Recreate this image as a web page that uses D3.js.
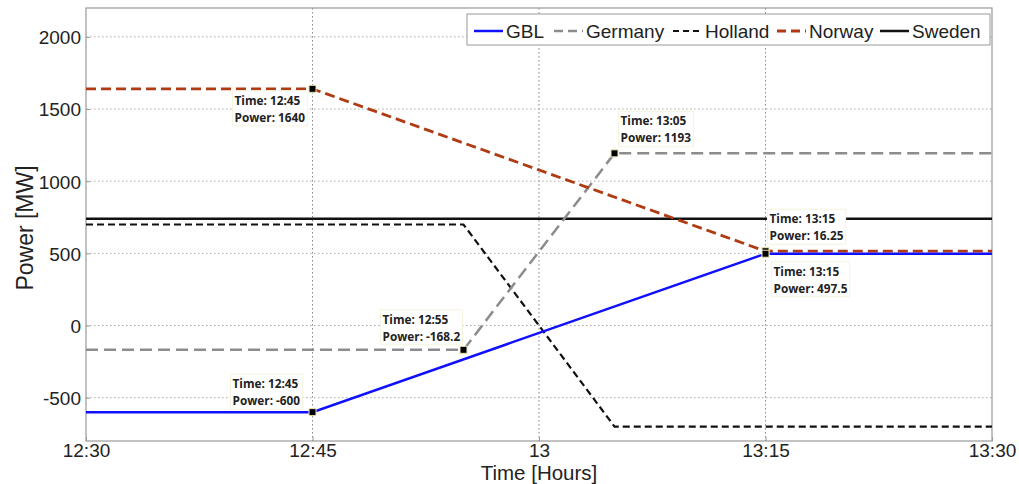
<!DOCTYPE html>
<html><head><meta charset="utf-8">
<script src="https://cdn.jsdelivr.net/npm/d3@7"></script>
<style>body{margin:0;background:#fff;} svg{display:block;}</style>
</head><body>
<script>
// times in minutes after 12:00
const xTicks = [30, 45, 60, 75, 90];
const xTickLabels = ["12:30", "12:45", "13", "13:15", "13:30"];
const yTicks = [-500, 0, 500, 1000, 1500, 2000];
const seriesNames = ["GBL", "Germany", "Holland", "Norway", "Sweden"];
const gblT = [30, 45, 75, 90],    gblV = [-600, -600, 497.5, 497.5];
const gerT = [30, 55, 65, 90],    gerV = [-168.2, -168.2, 1193, 1193];
const holT = [30, 55, 65, 90],    holV = [700, 700, -700, -700];
const norT = [30, 45, 75, 90],    norV = [1640, 1640, 515, 515];
const sweT = [30, 90],            sweV = [740, 740];
const annT = [45, 65, 75, 75, 55, 45];
const annV = [1640, 1193, 515, 497.5, -168.2, -600];
const annTime = ["12:45", "13:05", "13:15", "13:15", "12:55", "12:45"];
const annPower = ["1640", "1193", "16.25", "497.5", "-168.2", "-600"];

const W = 1019, H = 484;
const m = {l: 86, r: 27, t: 8, b: 43};
const svg = d3.select("body").append("svg").attr("width", W).attr("height", H);
const x = d3.scaleLinear().domain([30, 90]).range([m.l, W - m.r]);
const y = d3.scaleLinear().domain([-800, 2200]).range([H - m.b, m.t]);

// grid
const g = svg.append("g");
g.selectAll(".gy").data(yTicks).join("line")
  .attr("x1", m.l).attr("x2", W - m.r).attr("y1", d => y(d)).attr("y2", d => y(d))
  .attr("stroke", "#aaa").attr("stroke-width", 1).attr("stroke-dasharray", "1.5,2.5");
g.selectAll(".gx").data(xTicks.slice(1, -1)).join("line")
  .attr("y1", m.t).attr("y2", H - m.b).attr("x1", d => x(d)).attr("x2", d => x(d))
  .attr("stroke", "#888").attr("stroke-width", 1).attr("stroke-dasharray", "1.5,2.5");

// frame
svg.append("rect").attr("x", m.l).attr("y", m.t).attr("width", W - m.r - m.l).attr("height", H - m.b - m.t)
  .attr("fill", "none").attr("stroke", "#999").attr("stroke-width", 1.2);

// axes
const fontAx = "Liberation Sans, Arial, sans-serif";
const yAxis = svg.append("g").attr("transform", `translate(${m.l},0)`)
  .call(d3.axisLeft(y).tickValues(yTicks).tickSize(4).tickFormat(d => String(d)));
const xAxis = svg.append("g").attr("transform", `translate(0,${H - m.b})`)
  .call(d3.axisBottom(x).tickValues(xTicks).tickSize(4).tickFormat((d, i) => xTickLabels[i]));
[yAxis, xAxis].forEach(a => {
  a.select(".domain").remove();
  a.selectAll(".tick line").attr("stroke", "#999");
  a.selectAll("text").attr("font-family", fontAx).attr("font-size", 19).attr("fill", "#222");
});
yAxis.selectAll("text").attr("x", -5).attr("dy", "0.36em");
xAxis.selectAll("text").attr("y", 2).attr("dy", "0.71em");
xAxis.selectAll(".tick line").attr("transform", "translate(0,-4)");
yAxis.selectAll(".tick line").attr("transform", "translate(4,0)");

svg.append("text").attr("x", 539).attr("y", 479.5).attr("text-anchor", "middle")
  .attr("font-family", fontAx).attr("font-size", 20.5).attr("fill", "#222").text("Time [Hours]");
svg.append("text").attr("transform", `translate(33,228) rotate(-90)`).attr("text-anchor", "middle")
  .attr("font-family", fontAx).attr("font-size", 23).attr("fill", "#222").text("Power [MW]");

// series
const styles = [
  {t: gblT, v: gblV, c: "#1010ff", d: null, w: 2.5, ld: null},
  {t: gerT, v: gerV, c: "#8c8c8c", d: "12,6", w: 2.5, ld: "9,5"},
  {t: holT, v: holV, c: "#111", d: "7,4", w: 2.2, ld: "6,4"},
  {t: norT, v: norV, c: "#b03a12", d: "10,5", w: 2.8, ld: "9,5"},
  {t: sweT, v: sweV, c: "#111", d: null, w: 2.5, ld: null}
];
const line = d3.line().x(d => x(d[0])).y(d => y(d[1]));
const order = [4, 2, 1, 3, 0];
order.forEach(i => {
  const s = styles[i];
  svg.append("path").datum(s.t.map((t, k) => [t, s.v[k]])).attr("d", line)
    .attr("fill", "none").attr("stroke", s.c).attr("stroke-width", s.w)
    .attr("stroke-dasharray", s.d);
});

// annotations
const annFont = "Open Sans, Lato, sans-serif";
const annOff = [[-78, 16], [6, -28], [4, -28], [8, 22], [-81, -26], [-80, -24]];
annT.forEach((t, i) => {
  const px = x(t), py = y(annV[i]);
  const tx = px + annOff[i][0], ty = py + annOff[i][1];
  const grp = svg.append("g");
  const bg = grp.append("rect").attr("fill", "#fff").attr("stroke", "#f6f3de").attr("stroke-width", 1);
  const txt = grp.append("text").attr("font-family", annFont).attr("font-weight", 700)
    .attr("font-size", 11.8).attr("fill", "#222");
  txt.append("tspan").attr("x", tx).attr("y", ty).text("Time: " + annTime[i]);
  txt.append("tspan").attr("x", tx).attr("y", ty + 17).text("Power: " + annPower[i]);
  const bb = txt.node().getBBox();
  bg.attr("x", bb.x - 2).attr("y", bb.y - 1).attr("width", bb.width + 4).attr("height", bb.height + 2);
  svg.append("rect").attr("x", px - 3.5).attr("y", py - 3.5).attr("width", 7).attr("height", 7)
    .attr("fill", "#000").attr("stroke", "#eee8b0").attr("stroke-width", 1);
});

// legend
const lg = svg.append("g");
lg.append("rect").attr("x", 467).attr("y", 14).attr("width", 523).attr("height", 31)
  .attr("fill", "#fff").attr("stroke", "#999").attr("stroke-width", 1);
const legX = [474, 554, 673, 777, 880];
seriesNames.forEach((n, i) => {
  const s = styles[i];
  lg.append("line").attr("x1", legX[i]).attr("x2", legX[i] + 29).attr("y1", 31).attr("y2", 31)
    .attr("stroke", s.c).attr("stroke-width", s.w).attr("stroke-dasharray", s.ld);
  lg.append("text").attr("x", legX[i] + 32).attr("y", 38).attr("font-family", fontAx)
    .attr("font-size", 19).attr("fill", "#222").text(n);
});
</script>
</body></html>
